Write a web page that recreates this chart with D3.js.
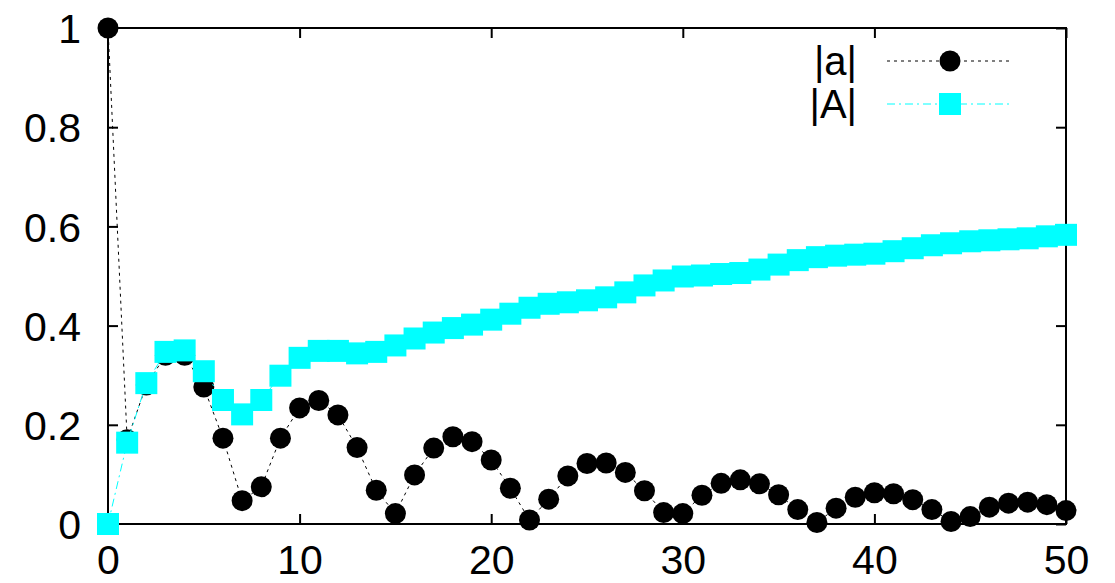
<!DOCTYPE html>
<html><head><meta charset="utf-8">
<script src="https://cdn.jsdelivr.net/npm/d3@7"></script>
<style>html,body{margin:0;padding:0;background:#fff;}svg{display:block;}</style>
</head><body>
<script>
const xs = d3.range(0, 51);
const aVals = [1.0, 0.17, 0.28, 0.34, 0.34, 0.276, 0.173, 0.047, 0.075, 0.173, 0.234, 0.249, 0.22, 0.154, 0.068, 0.021,
  0.099, 0.153, 0.176, 0.166, 0.129, 0.072, 0.008, 0.05, 0.097, 0.122, 0.123, 0.104, 0.067, 0.023, 0.021,
  0.058, 0.082, 0.089, 0.081, 0.059, 0.029, 0.003, 0.032, 0.054, 0.063, 0.061, 0.049, 0.029, 0.005,
  0.015, 0.034, 0.042, 0.044, 0.039, 0.027];
const AVals = [0.0, 0.164, 0.284, 0.347, 0.35, 0.308, 0.25, 0.221, 0.25, 0.299, 0.335, 0.349, 0.349, 0.344, 0.347, 0.36,
  0.374, 0.386, 0.395, 0.402, 0.412, 0.424, 0.436, 0.444, 0.447, 0.451, 0.457, 0.467, 0.481, 0.491, 0.499,
  0.501, 0.504, 0.506, 0.513, 0.523, 0.532, 0.538, 0.541, 0.543, 0.545, 0.55, 0.556, 0.562, 0.566,
  0.57, 0.572, 0.574, 0.576, 0.58, 0.583];
const xTicks = [0, 10, 20, 30, 40, 50];
const yTicks = [0, 0.2, 0.4, 0.6, 0.8, 1];
const yTickLabels = ["0", "0.2", "0.4", "0.6", "0.8", "1"];
const seriesNames = ["|a|", "|A|"];

const W = 1115, H = 583;
const mLeft = 108, mRight = 1066, mTop = 28, mBottom = 524;
const FONT = "'Liberation Sans', Arial, Helvetica, sans-serif";

const svg = d3.select("body").append("svg").attr("width", W).attr("height", H);
const x = d3.scaleLinear().domain([0, 50]).range([mLeft, mRight]);
const y = d3.scaleLinear().domain([0, 1]).range([mBottom, mTop]);

const tickLen = 10;
const axB = d3.axisBottom(x).tickValues(xTicks).tickSize(-tickLen).tickPadding(21).tickFormat(d3.format("d"));
const axT = d3.axisTop(x).tickValues(xTicks).tickSize(-tickLen).tickFormat("");
const axL = d3.axisLeft(y).tickValues(yTicks).tickSize(-tickLen).tickPadding(27).tickFormat((d, i) => yTickLabels[i]);
const axR = d3.axisRight(y).tickValues(yTicks).tickSize(-tickLen).tickFormat("");

function styleAxis(g) {
  g.select(".domain").remove();
  g.selectAll(".tick line").attr("stroke", "#000").attr("stroke-width", 2);
  g.selectAll(".tick text").attr("fill", "#000").style("font-family", FONT).style("font-size", "41px");
}
svg.append("g").attr("transform", `translate(0,${mBottom})`).call(axB).call(styleAxis)
  .selectAll(".tick text").attr("dy", "0.71em");
svg.append("g").attr("transform", `translate(0,${mTop})`).call(axT).call(styleAxis);
svg.append("g").attr("transform", `translate(${mLeft},0)`).call(axL).call(styleAxis)
  .selectAll(".tick text").attr("dy", "0.36em");
svg.append("g").attr("transform", `translate(${mRight},0)`).call(axR).call(styleAxis);

svg.append("rect").attr("x", mLeft).attr("y", mTop).attr("width", mRight - mLeft).attr("height", mBottom - mTop)
  .attr("fill", "none").attr("stroke", "#000").attr("stroke-width", 2);

const line = d3.line().x(d => x(d[0])).y(d => y(d[1]));
const aData = xs.map((d, i) => [d, aVals[i]]);
const AData = xs.map((d, i) => [d, AVals[i]]);

const R = 10.5, S = 22;
svg.append("path").datum(aData).attr("d", line).attr("fill", "none").attr("stroke", "#000")
  .attr("stroke-width", 1).attr("stroke-dasharray", "3,4");
svg.append("g").selectAll("circle").data(aData).join("circle")
  .attr("cx", d => x(d[0])).attr("cy", d => y(d[1])).attr("r", R).attr("fill", "#000");
svg.append("path").datum(AData).attr("d", line).attr("fill", "none").attr("stroke", "#00ffff")
  .attr("stroke-width", 1).attr("stroke-dasharray", "8,4,2,4");
svg.append("g").selectAll("rect").data(AData).join("rect")
  .attr("x", d => x(d[0]) - S / 2).attr("y", d => y(d[1]) - S / 2).attr("width", S).attr("height", S).attr("fill", "#00ffff");

const legY = [61, 104];
const lg = svg.append("g");
seriesNames.forEach((name, i) => {
  lg.append("text").attr("x", 857).attr("y", legY[i] + 14).attr("text-anchor", "end")
    .style("font-family", FONT).style("font-size", "40px").attr("fill", "#000").text(name);
  lg.append("line").attr("x1", 887).attr("x2", 1013).attr("y1", legY[i]).attr("y2", legY[i])
    .attr("stroke", i === 0 ? "#000" : "#00ffff").attr("stroke-width", 1)
    .attr("stroke-dasharray", i === 0 ? "3,4" : "8,4,2,4");
  if (i === 0) lg.append("circle").attr("cx", 950).attr("cy", legY[i]).attr("r", R).attr("fill", "#000");
  else lg.append("rect").attr("x", 950 - S / 2).attr("y", legY[i] - S / 2).attr("width", S).attr("height", S).attr("fill", "#00ffff");
});
</script>
</body></html>
